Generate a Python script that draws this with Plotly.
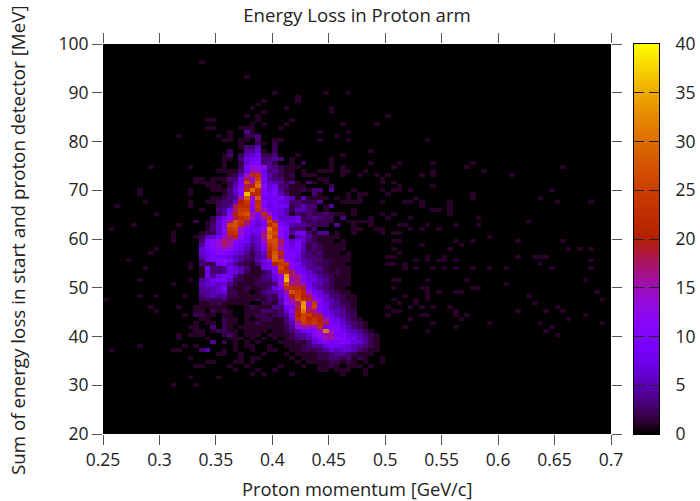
import numpy as np
import plotly.graph_objects as go

TITLE = "Energy Loss in Proton arm"
XLABEL = "Proton momentum [GeV/c]"
YLABEL = "Sum of energy loss in start and proton detector [MeV]"
x_ticks = [0.25, 0.3, 0.35, 0.4, 0.45, 0.5, 0.55, 0.6, 0.65, 0.7]
x_tick_text = ["0.25", "0.3", "0.35", "0.4", "0.45", "0.5", "0.55", "0.6", "0.65", "0.7"]
y_ticks = [20, 30, 40, 50, 60, 70, 80, 90, 100]
c_ticks = [0, 5, 10, 15, 20, 25, 30, 35, 40]

x_edges_first, x_step, n_cols = 0.25, 0.005, 90
y_edges_first, y_step, n_rows = 20.0, 0.8, 100

# counts per row (row index -> counts starting at column 16)
core_first_col = 16
core_rows = {
 77: [0,0,0,0,0,0,1,0,0,4,1],
 76: [0,0,0,0,1,0,1,0,0,2,2,3],
 75: [0,0,0,0,0,0,1,0,1,1,0,3,0,0,1,1],
 74: [0,0,0,0,0,0,0,0,1,0,0,2,1,0,2],
 73: [0,0,0,0,0,0,0,0,1,3,3,5,0,0,2],
 72: [0,0,0,0,0,0,2,0,0,4,4,6,1,0,2],
 71: [0,0,0,0,0,1,3,0,2,5,6,8,2,2,3],
 70: [0,0,0,0,0,1,1,0,3,7,8,8,3,3,4,3,0,1],
 69: [0,0,0,0,0,1,0,0,2,6,9,10,3,4,2,0,0,1,0,2],
 68: [0,0,0,0,0,1,0,0,2,9,13,12,12,4,3,2,1,1,1],
 67: [0,0,0,0,0,1,0,1,3,7,15,14,8,3,4,2,1,1,0,1],
 66: [0,0,0,0,0,0,1,2,5,14,22,22,8,5,3,2,1,2,0,1,1,1],
 65: [1,0,0,1,0,1,3,3,8,18,14,24,10,4,3,3,1,1,0,0,0,0,1,1],
 64: [1,0,1,1,0,1,2,4,8,26,16,28,8,6,5,4,2,4,1,0,3,1,0,1],
 63: [0,0,1,1,0,0,2,5,10,18,20,30,12,6,8,3,3,1,1,1,0,0,0,0,2],
 62: [0,0,0,0,1,1,3,6,12,22,30,22,10,7,9,4,2,1,1,2,1,3,3,0,4],
 61: [0,0,0,0,0,1,3,5,10,36,22,22,10,8,9,5,3,1,1,0,0,3,1],
 60: [0,0,0,1,1,2,3,4,16,28,14,28,8,8,8,9,6,5,1,5,1,1,1,1],
 59: [0,0,1,1,2,3,3,6,20,24,12,22,12,8,9,7,6,3,3,2,2,2,4],
 58: [0,0,0,0,2,3,4,18,22,22,10,24,10,7,8,8,8,2,3,5,3,3,0,1,4],
 57: [0,0,0,0,3,4,8,18,24,24,9,22,14,8,8,7,5,2,5,5,3,2,0,1],
 56: [0,0,0,0,2,4,10,20,25,27,16,9,22,14,8,7,5,1,3,2,3,2,2,3,2,1,1],
 55: [0,0,0,2,5,8,12,18,22,24,14,9,16,22,9,6,6,6,7,2,3,4,3,2,2,0,3],
 54: [2,0,1,2,6,10,16,27,24,18,9,7,10,26,18,8,6,7,8,3,2,3,2,2,2],
 53: [0,0,1,3,6,10,26,27,22,15,8,6,9,22,26,9,8,5,4,4,3,2,2,2,0,4],
 52: [0,0,1,3,6,12,24,25,14,10,8,8,12,31,24,12,9,3,3,3,1,3],
 51: [0,1,2,2,6,10,22,23,14,9,7,8,16,28,26,11,8,4,8,8,3,1,4,4,0,1],
 50: [1,2,5,6,8,14,18,20,12,8,5,6,16,30,24,12,8,1,5,6,4,2,1,1,1,1],
 49: [0,3,9,11,14,17,16,11,9,8,5,6,14,26,27,18,9,6,8,6,3,2,1,1,1,0,1],
 48: [0,4,9,12,13,18,15,10,8,6,4,6,10,24,26,16,10,7,10,5,2,3,2,1,1,1,1],
 47: [0,7,8,10,12,14,12,8,7,5,3,5,9,22,25,15,9,8,9,5,2,3,2,1,1,1,1],
 46: [0,6,8,9,11,11,9,7,6,4,2,4,6,20,27,21,10,9,8,4,3,2,3,1,1,1,0,1],
 45: [0,5,7,9,8,8,7,5,4,3,2,4,5,20,29,18,10,9,8,4,3,3,2,1,1,1,1,1],
 44: [0,3,7,9,10,12,9,6,4,2,2,5,8,12,28,26,12,9,6,5,4,3,3,2,2,1,1,1],
 43: [0,3,2,2,9,10,6,4,2,2,1,3,6,8,20,24,24,10,9,5,4,3,2,2,1,1,1],
 42: [0,1,8,3,3,4,8,6,5,3,1,1,7,8,10,26,20,11,8,7,4,4,4,2,1,1,1,1],
 41: [0,1,7,3,3,4,7,7,5,2,1,1,2,4,9,22,23,18,9,8,6,4,3,2,1,2,1,1],
 40: [0,1,8,4,7,9,8,4,2,1,1,1,3,4,7,12,34,17,16,10,7,6,4,3,2,1,1,1],
 39: [0,4,5,8,9,9,6,2,2,1,1,2,3,3,6,11,36,15,17,9,7,7,5,4,2,1,1,1],
 38: [0,5,6,7,6,6,4,2,1,1,1,2,2,2,3,14,27,17,17,15,8,5,5,3,2,1,1,1],
 37: [0,4,5,5,6,9,2,1,1,2,1,1,2,3,7,9,22,22,22,19,9,6,4,3,2,1,1],
 36: [0,4,4,5,6,7,2,2,1,1,0,1,3,4,5,6,15,27,24,21,13,8,7,4,3,2,1,1],
 35: [0,3,4,5,4,4,2,2,1,1,1,1,2,3,2,6,12,20,25,20,18,11,7,6,3,3,2,1,1],
 34: [0,2,3,2,2,4,1,1,1,1,1,2,1,3,2,5,10,16,27,22,20,12,11,6,5,3,2,1,1],
 33: [0,1,1,2,2,1,1,1,1,1,0,0,2,2,1,5,12,14,18,33,14,24,10,7,5,4,2,2,1],
 32: [0,1,1,1,1,1,0,0,0,1,2,1,1,1,4,3,8,9,18,34,16,25,9,8,4,4,3,2,1],
 31: [1,1,0,2,1,2,1,0,0,1,1,1,3,3,2,3,6,12,20,31,18,16,10,8,6,5,4,2,2],
 30: [2,2,1,1,0,1,1,0,0,1,1,2,2,1,2,3,4,8,20,25,24,20,18,8,7,5,4,3,2],
 29: [0,1,1,0,0,2,1,1,0,1,0,1,2,2,1,1,3,7,22,26,20,23,20,15,8,7,5,3,2,1],
 28: [1,0,1,1,0,2,1,1,0,1,1,2,1,1,1,1,3,5,16,24,22,24,21,18,9,8,6,4,3,2,1],
 27: [1,0,0,3,0,2,1,0,1,1,1,1,1,1,1,1,2,4,13,15,15,14,22,8,10,9,7,5,3,2,1],
 26: [1,1,0,1,2,2,1,1,0,1,1,1,1,0,1,1,2,3,5,8,9,10,14,31,13,10,8,6,5,4,2,1],
 25: [1,1,0,0,0,2,3,1,0,1,1,1,0,1,1,1,1,2,4,4,6,11,12,15,16,9,9,7,6,5,3,2,1],
 24: [0,0,1,0,0,0,1,1,1,0,1,0,1,0,1,0,1,2,3,4,5,7,10,15,16,12,10,8,8,5,4,2,1],
 23: [0,0,0,4,0,2,0,1,0,1,0,1,0,0,0,1,1,1,2,1,3,6,8,10,8,9,10,9,7,6,4,2,1],
 22: [0,0,0,0,0,0,0,1,0,1,1,0,0,1,0,0,1,1,1,2,3,4,4,7,8,8,7,6,5,4,3,2,1],
 21: [0,3,5,0,0,1,0,1,0,0,1,0,0,1,1,0,0,1,1,2,2,2,3,4,6,5,6,6,5,3,2,1,1],
 20: [0,0,0,0,1,1,0,0,1,0,0,0,1,0,0,0,1,0,1,1,1,1,2,2,3,4,4,3,2,1,1,1],
 19: [0,0,0,0,0,0,0,0,1,0,1,1,0,0,0,0,0,1,0,1,1,1,2,2,3,3,2,3,1,2,1,0,0,1],
 18: [0,0,1,1,0,0,0,1,1,0,1,0,0,0,0,0,0,0,1,0,1,1,1,1,2,2,1,2,1,0,1,0,0,1],
 17: [1,1,0,0,0,0,1,0,0,1,0,0,0,0,0,1,0,0,0,1,0,0,1,1,2,1,0,1,1,1,0,1],
 16: [0,0,0,0,0,0,0,1,0,0,0,1,0,0,1,0,0,0,0,0,0,0,1,1,0,1,1,1,0,0,1],
 15: [0,0,0,0,0,0,0,0,0,0,1,0,1,0,0,0,0,1,0,0,0,0,0,0,0,0,1,0,0,0,1],
}

# isolated single-count cells: row index -> columns
single_count_cells = {
 95: [17], 91: [25], 87: [30,39,43], 86: [34], 85: [28,34], 84: [27], 83: [26,32,40],
 82: [28,40], 81: [25,27,50], 80: [18,19,27,33], 79: [26,28,32,42,48], 78: [18,19,24,25,26,31],
 77: [38,43], 76: [13,20,41,22], 75: [21,38,43,57], 72: [47,22], 71: [21,34,42,22], 70: [22,40],
 69: [21,40,35,47,52,58,65], 68: [8,15,21,34,42,51,40,64,81], 67: [20,21,22,38,39,40,42,43,46,58,67],
 66: [33,35,36,37,42,45,48,50,56,58,72], 65: [17,20,33,38,39,49], 64: [17,33,34,37,39,49,51],
 63: [19,20,34,35,52,58,40], 62: [6,15,19,20,44,49,51,52,54,79], 61: [6,15,43,45,46,50,65],
 60: [35,36,37,38,39,41,43,45,55,65,77], 59: [7,15,18,42,43,44,45,49,53,54,56,61,80,86],
 58: [2,15,56,61], 57: [17,39,44,58,59,61], 56: [9,44,49,51,61], 55: [42,47,50,54,66],
 54: [43,44,45,46,47,75], 53: [5,13,44,47,52,53,57,62,66], 52: [1,44,45,48,49,54,56,59],
 51: [44,49,51,52,12], 50: [16,40,41,12,68], 49: [12,17,51,52,62,65,73,81], 48: [56,63],
 47: [9,51,61,82,84,86], 46: [8,52], 45: [50,51,57,60,73,76,77,78], 44: [4,55,57,59,60,62,86],
 43: [15,50,51,53,77], 42: [7,15,53,55,58,60,62,65,68,71,79,86], 39: [6,15,51,52,57,64,85],
 38: [12,71], 37: [51,56,57,65,66], 36: [57,59,62,63,87], 35: [6,9,14,53,57,75],
 34: [0,51,55,57,88], 33: [52,55,76], 32: [8,13,16,50,54,56,58,61,80],
 31: [9,16,51,52,62,73,78,81], 30: [14,50,56,57,62,64,85], 29: [54,63,82], 28: [58,68,77,88],
 27: [15,53,62,79], 26: [57,78], 25: [13,15,16,80], 24: [13], 22: [6,14,16], 21: [1,12,13],
 19: [15], 14: [15,20], 12: [12,16],
}


def palette(t):
    r, g, b = np.sqrt(t), t ** 3, max(np.sin(2 * np.pi * t), 0)
    return f"rgb({round(255*r)},{round(255*g)},{round(255*b)})"


colorscale = [[i / 40, palette(i / 40)] for i in range(41)]

z = np.zeros((n_rows, n_cols))
for row, cols in single_count_cells.items():
    for col in cols:
        z[row, col] = 1
for row, vals in core_rows.items():
    for k, v in enumerate(vals):
        if v:
            z[row, core_first_col + k] = v

xs = x_edges_first + x_step * (np.arange(n_cols) + 0.5)
ys = y_edges_first + y_step * (np.arange(n_rows) + 0.5)

FONT = "Open Sans"
INK = "#222222"
W, H = 700, 501
L, R, T, B = 103, 611, 44, 434

fig = go.Figure()
fig.add_trace(go.Heatmap(x=xs, y=ys, z=z, zmin=0, zmax=40, colorscale=colorscale,
                         showscale=False, xaxis="x", yaxis="y",
                         hovertemplate="%{x:.3f} GeV/c, %{y:.1f} MeV: %{z}<extra></extra>"))
# colour key as its own small axis, so ticks can be mirrored on both edges
levels = np.linspace(0, 40, 161)
fig.add_trace(go.Heatmap(x=[0, 1], y=levels, z=np.column_stack([levels, levels]), zmin=0, zmax=40,
                         colorscale=colorscale, showscale=False, xaxis="x2", yaxis="y2",
                         hoverinfo="skip"))

axis_font = dict(family=FONT, size=17.5, color=INK)
fig.update_layout(
    width=W, height=H, autosize=False,
    margin=dict(l=0, r=0, t=0, b=0),
    paper_bgcolor="white", plot_bgcolor="black",
    font=dict(family=FONT, size=17, color=INK),
    showlegend=False,
    title=dict(text=TITLE, x=357 / W, xanchor="center", y=1 - 15 / H, yanchor="middle",
               font=dict(family=FONT, size=18.6, color=INK)),
    xaxis=dict(domain=[L / W, R / W], range=[0.25, 0.7], tickvals=x_ticks, ticktext=x_tick_text,
               ticks="outside", ticklen=10, tickwidth=1, tickcolor="#555555", mirror="ticks",
               automargin=False, showgrid=False, zeroline=False, showline=False,
               tickfont=axis_font, anchor="y"),
    yaxis=dict(domain=[1 - B / H, 1 - T / H], range=[20, 100], tickvals=y_ticks,
               ticks="outside", ticklen=10, tickwidth=1, tickcolor="#555555", mirror="ticks",
               automargin=False, showgrid=False, zeroline=False, showline=False,
               tickfont=axis_font, anchor="x"),
    xaxis2=dict(domain=[634 / W, 659 / W], range=[0, 1], showticklabels=False, ticks="",
                automargin=False, showgrid=False, zeroline=False, showline=True,
                linecolor="black", linewidth=1, mirror=True, anchor="y2"),
    yaxis2=dict(domain=[1 - B / H, 1 - T / H], range=[0, 40], tickvals=c_ticks, side="right",
                ticks="inside", ticklen=10, tickwidth=1, tickcolor="#222222", mirror="ticks",
                automargin=False, showgrid=False, zeroline=False, showline=True,
                linecolor="black", linewidth=1, tickfont=axis_font, anchor="x2",
                ticklabelstandoff=12),
    annotations=[
        dict(text=XLABEL, xref="paper", yref="paper", x=357 / W, y=1 - 488 / H, showarrow=False,
             xanchor="center", yanchor="middle", font=dict(family=FONT, size=18.3, color=INK)),
        dict(text=YLABEL, xref="paper", yref="paper", x=18 / W, y=1 - 240 / H, showarrow=False,
             textangle=-90, xanchor="center", yanchor="middle",
             font=dict(family=FONT, size=18.8, color=INK)),
    ],
)
fig.write_html("out.html", config={"displayModeBar": False},
               post_script="document.body.style.margin='0';document.body.style.overflow='hidden';")
